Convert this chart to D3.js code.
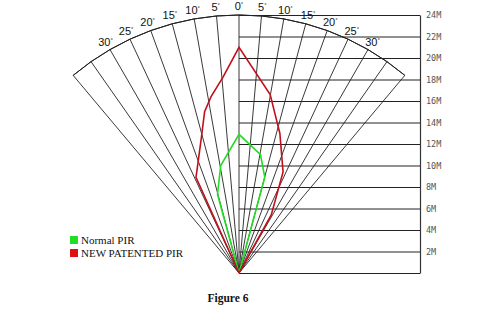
<!DOCTYPE html>
<html>
<head>
<meta charset="utf-8">
<script src="https://cdn.jsdelivr.net/npm/d3@7"></script>
<style>
  body { margin: 0; background: #fff; }
  svg { display: block; }
</style>
</head>
<body>
<svg id="chart"></svg>
<script>
// range rings (metres) and the angle rays (degrees)
const distTicks = [0, 2, 4, 6, 8, 10, 12, 14, 16, 18, 20, 22, 24];
const rayAngles = [-40, -35, -30, -25, -20, -15, -10, -5, 0, 5, 10, 15, 20, 25, 30, 35, 40];
const angleLabels = [-30, -25, -20, -15, -10, -5, 0, 5, 10, 15, 20, 25, 30];

// detection zones, [lateral m, forward m]
const normalPir = [[0, 0], [-2.0, 7.3], [-1.7, 10.0], [0, 12.9], [2.0, 11.0], [2.4, 8.9], [0, 0]];
const patentedPir = [[0, 0], [-4.0, 8.9], [-3.5, 12.6], [-3.2, 15.0], [-2.6, 16.4], [-1.5, 18.2], [0, 21.0],
  [2.9, 16.6], [3.5, 14.2], [3.8, 13.0], [4.1, 9.4], [3.0, 5.4], [0, 0]];

const legendItems = [
  {name: 'Normal PIR', color: '#22dd22'},
  {name: 'NEW PATENTED PIR', color: '#dd1111'}
];

const width = 480, height = 322;
const cx = 239, cy = 273, radius = 258;
const axisX = 420;

const svg = d3.select('#chart')
    .attr('width', width)
    .attr('height', height);

// forward distance -> y, lateral distance -> x
const yScale = d3.scaleLinear().domain([0, 24]).range([cy, cy - radius]);
const xScale = d3.scaleLinear().domain([-24, 24]).range([cx - radius, cx + radius]);
const rScale = d3.scaleLinear().domain([0, 24]).range([0, radius]);

const rad = a => a * Math.PI / 180;

// horizontal distance lines + right axis
const yAxis = d3.axisRight(yScale)
    .tickValues(distTicks)
    .tickSizeInner(-(axisX - cx))
    .tickSizeOuter(0)
    .tickPadding(6)
    .tickFormat(d => d === 0 ? '' : d + 'M');

const axisG = svg.append('g')
    .attr('transform', `translate(${axisX},0)`)
    .call(yAxis);
axisG.select('.domain').attr('stroke', '#333').attr('stroke-width', 1.2);
axisG.selectAll('.tick line').attr('stroke', '#222').attr('stroke-width', 1);
axisG.selectAll('.tick text')
    .attr('fill', '#555')
    .style('font-family', '"DejaVu Sans Mono", monospace')
    .style('font-size', '8.5px');

// fan
const fan = svg.append('g').attr('transform', `translate(${cx},${cy})`);

fan.selectAll('line.ray')
    .data(rayAngles)
  .join('line')
    .attr('class', 'ray')
    .attr('x1', 0).attr('y1', 0)
    .attr('x2', d => rScale(24) * Math.sin(rad(d)))
    .attr('y2', d => -rScale(24) * Math.cos(rad(d)))
    .attr('stroke', '#222')
    .attr('stroke-width', 0.9);

const arc = d3.arc()
    .innerRadius(rScale(24))
    .outerRadius(rScale(24))
    .startAngle(rad(-40))
    .endAngle(rad(40));

fan.append('path')
    .attr('d', arc())
    .attr('fill', 'none')
    .attr('stroke', '#222')
    .attr('stroke-width', 1);

// angle labels
const labelR = rScale(24) + 9;
const lbl = fan.selectAll('text.ang')
    .data(angleLabels)
  .join('text')
    .attr('class', 'ang')
    .attr('x', d => labelR * Math.sin(rad(d)))
    .attr('y', d => -labelR * Math.cos(rad(d)) + 4)
    .attr('text-anchor', 'middle')
    .style('font-family', '"Liberation Sans", Arial, sans-serif')
    .style('font-size', '11px')
    .attr('fill', '#111');
lbl.append('tspan').text(d => Math.abs(d));
lbl.append('tspan')
    .attr('dy', -4)
    .style('font-size', '6px')
    .text('°');

// detection patterns
const line = d3.line()
    .x(d => xScale(d[0]))
    .y(d => yScale(d[1]));

svg.append('path')
    .datum(normalPir)
    .attr('d', line)
    .attr('fill', 'none')
    .attr('stroke', legendItems[0].color)
    .attr('stroke-width', 1.6);

svg.append('path')
    .datum(patentedPir)
    .attr('d', line)
    .attr('fill', 'none')
    .attr('stroke', '#c0101c')
    .attr('stroke-width', 1.6);

// legend
const legend = svg.append('g').attr('transform', 'translate(70,236)');
legend.selectAll('rect')
    .data(legendItems)
  .join('rect')
    .attr('x', 0)
    .attr('y', (d, i) => i * 13)
    .attr('width', 8)
    .attr('height', 8)
    .attr('fill', d => d.color);
legend.selectAll('text')
    .data(legendItems)
  .join('text')
    .attr('x', 11)
    .attr('y', (d, i) => i * 13 + 8)
    .style('font-family', '"Liberation Serif", "Times New Roman", serif')
    .style('font-size', '11px')
    .attr('fill', '#111')
    .text(d => d.name);

// caption
svg.append('text')
    .attr('x', 228)
    .attr('y', 302)
    .attr('text-anchor', 'middle')
    .style('font-family', '"Liberation Serif", "Times New Roman", serif')
    .style('font-size', '11.5px')
    .style('font-weight', 'bold')
    .attr('fill', '#111')
    .text('Figure 6');
</script>
</body>
</html>
